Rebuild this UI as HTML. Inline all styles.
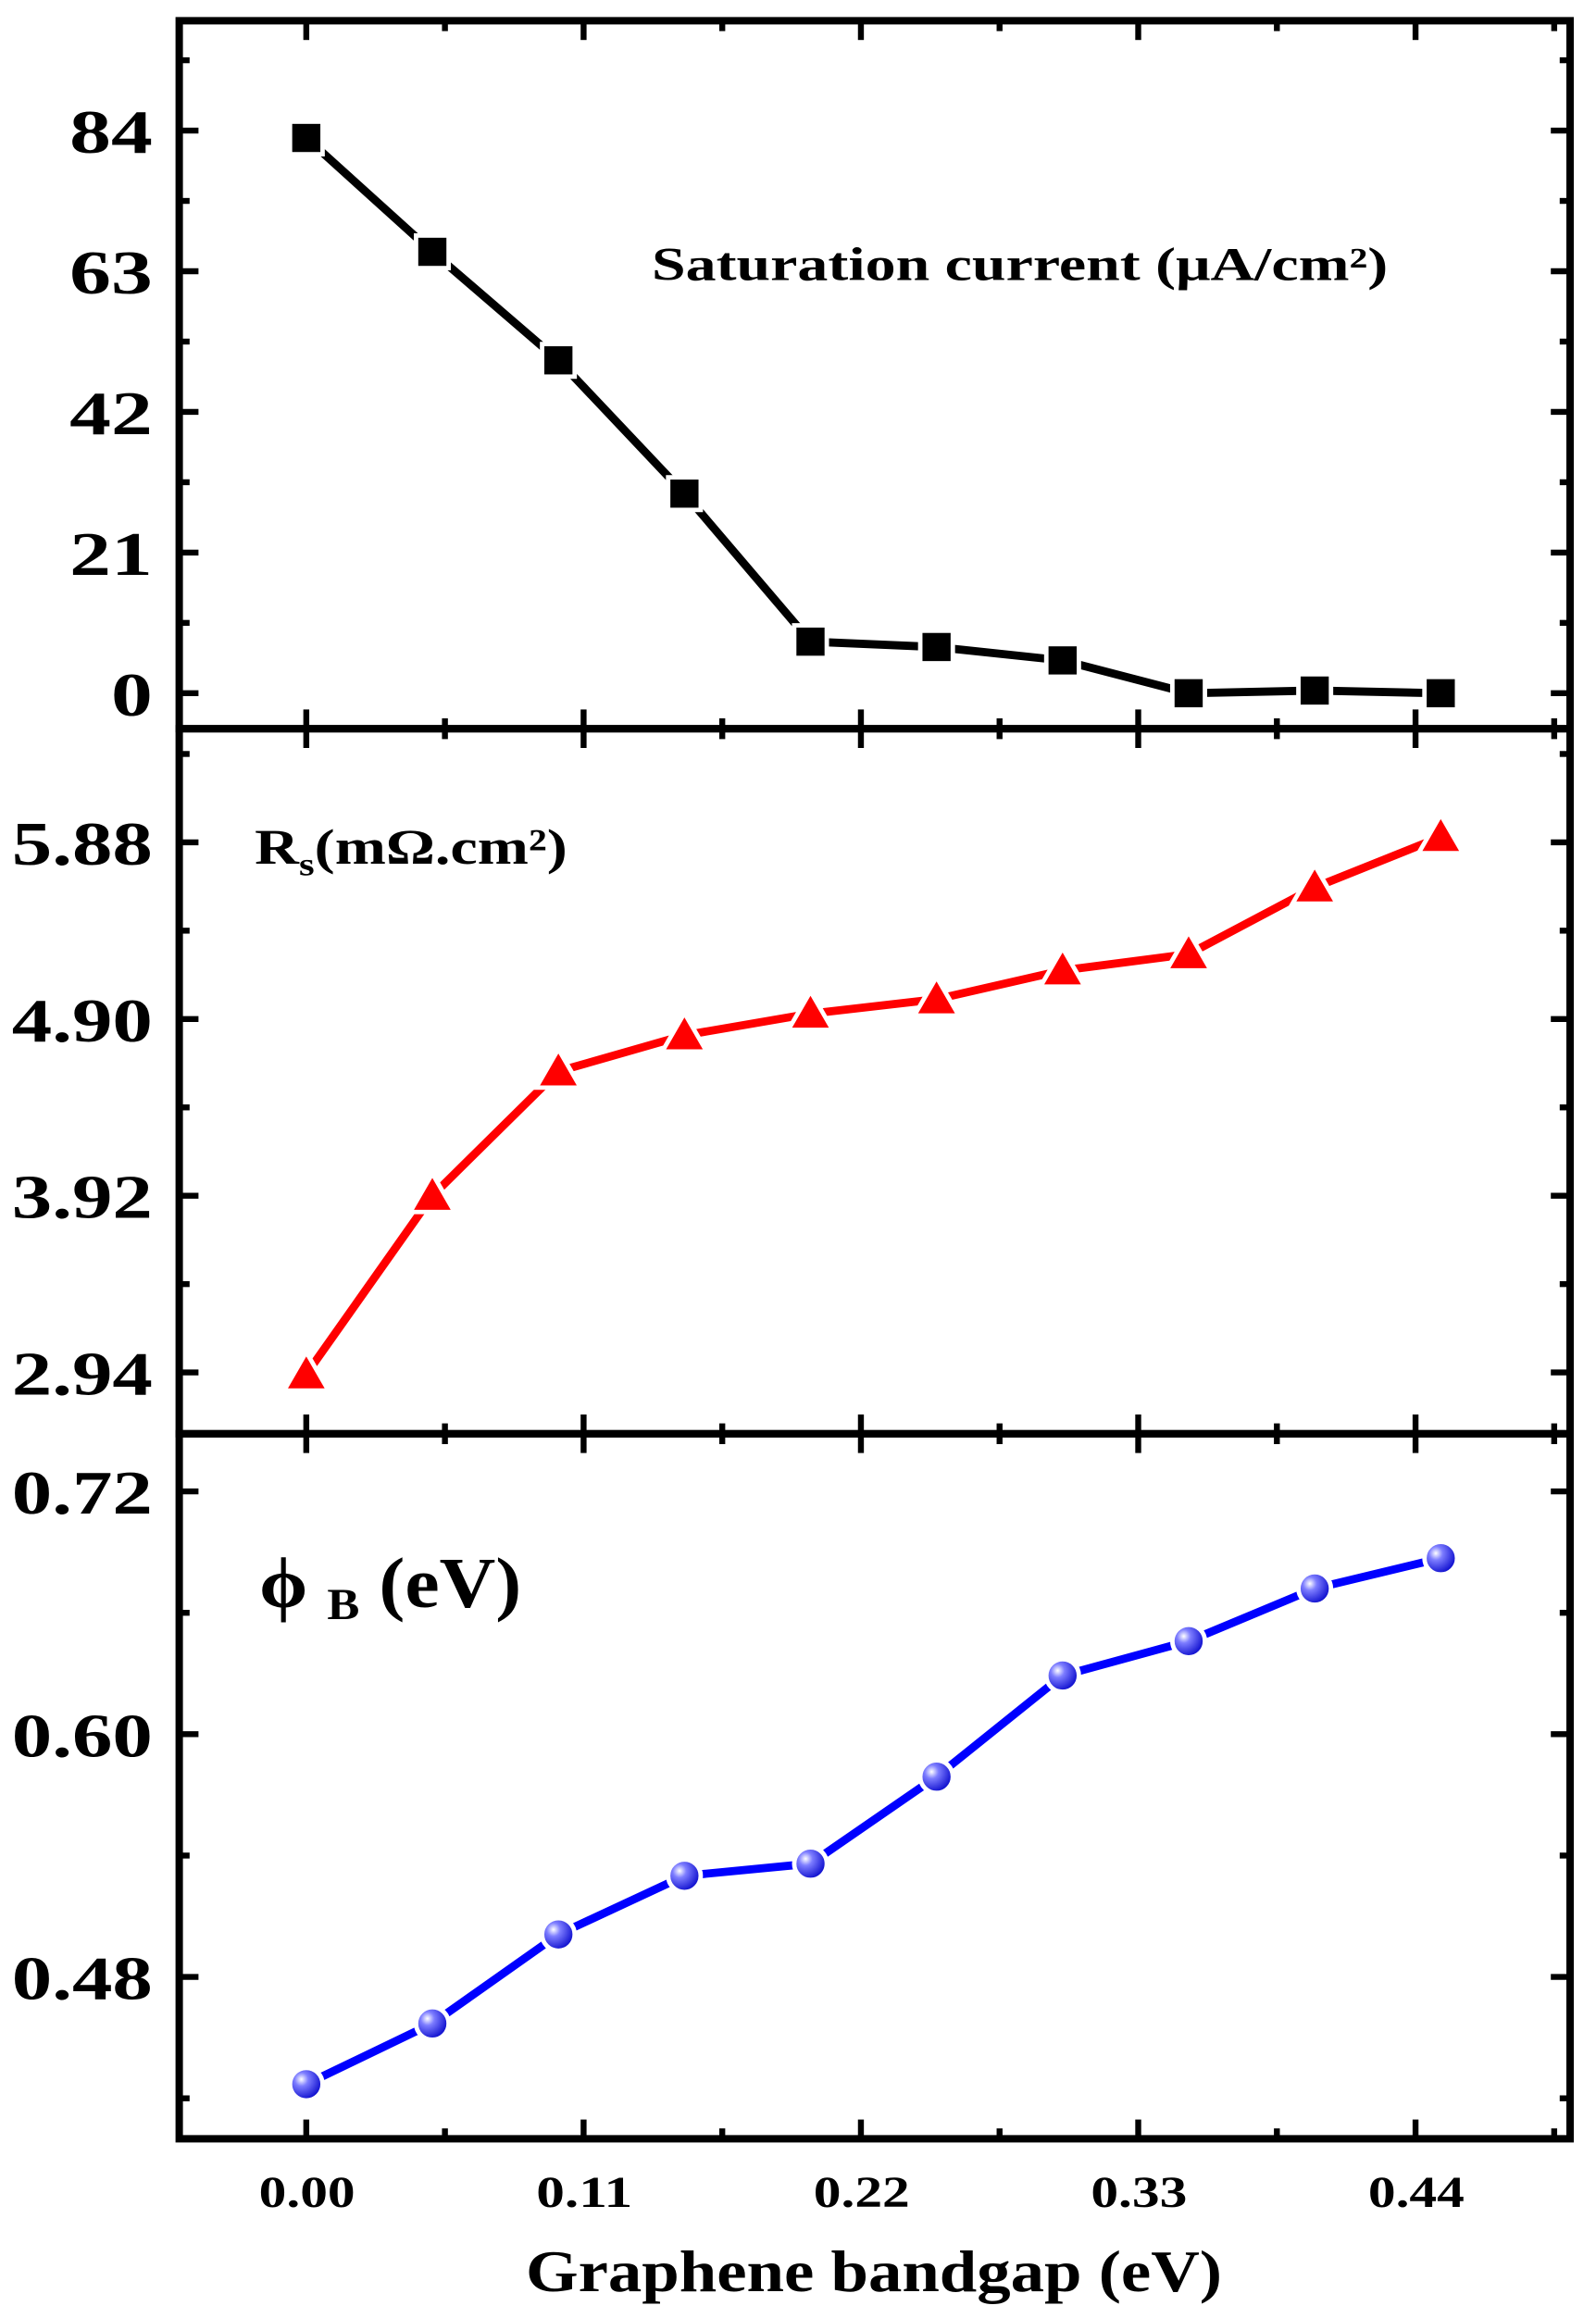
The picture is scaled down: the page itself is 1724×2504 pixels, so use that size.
<!DOCTYPE html>
<html><head><meta charset="utf-8"><style>
html,body{margin:0;padding:0;background:#fff;}
svg{display:block;}
text{font-family:"Liberation Serif",serif;font-weight:bold;fill:#000;}
</style></head><body>
<svg id="chart" width="1724" height="2504" viewBox="0 0 1077.5 1565" preserveAspectRatio="none" xmlns="http://www.w3.org/2000/svg">
<defs>
<radialGradient id="ball" cx="0.35" cy="0.35" r="0.7">
<stop offset="0" stop-color="#ffffff"/><stop offset="0.3" stop-color="#7d7dff"/><stop offset="1" stop-color="#0000c8"/>
</radialGradient>
</defs>
<g id="plots"></g>
<text x="355" y="1547" font-size="40" textLength="470" lengthAdjust="spacingAndGlyphs">Graphene bandgap (eV)</text>
<text x="440" y="189" font-size="32" textLength="497" lengthAdjust="spacingAndGlyphs">Saturation current (μA/cm²)</text>
<text x="172" y="583" font-size="34" textLength="211" lengthAdjust="spacingAndGlyphs">R<tspan font-size="22" dy="8">s</tspan><tspan dy="-8">(mΩ.cm²)</tspan></text>
<text x="175" y="1085" font-size="48" textLength="177" lengthAdjust="spacingAndGlyphs">ϕ <tspan font-size="30" dy="8">B</tspan><tspan dy="-8"> (eV)</tspan></text>
</svg>
<script>
const xValues = [0, 0.05, 0.10, 0.15, 0.20, 0.25, 0.30, 0.35, 0.40, 0.45];
const xTicks = [0, 0.11, 0.22, 0.33, 0.44];
const xTickLabels = ["0.00", "0.11", "0.22", "0.33", "0.44"];
const satCurrent = [82.9, 65.9, 49.7, 29.8, 7.7, 6.9, 4.9, 0, 0.4, 0];
const satTicks = [0, 21, 42, 63, 84];
const satTickLabels = ["0", "21", "42", "63", "84"];
const rsValues = [2.93, 3.92, 4.61, 4.81, 4.93, 5.01, 5.17, 5.26, 5.63, 5.91];
const rsTicks = [2.94, 3.92, 4.90, 5.88];
const rsTickLabels = ["2.94", "3.92", "4.90", "5.88"];
const phiValues = [0.427, 0.457, 0.501, 0.530, 0.536, 0.579, 0.629, 0.646, 0.672, 0.687];
const phiTicks = [0.48, 0.60, 0.72];
const phiTickLabels = ["0.48", "0.60", "0.72"];

const NS = "http://www.w3.org/2000/svg";
const g = document.getElementById("plots");
const L = 121, R = 1060;
const xMin = -0.0504, xMax = 0.5013;
function xs(v){ return L + (v - xMin) / (xMax - xMin) * (R - L); }
function mk(tag, attrs, parent){ const e = document.createElementNS(NS, tag); for (const k in attrs) e.setAttribute(k, attrs[k]); (parent || g).appendChild(e); return e; }

const panels = [
 {name:"saturation", top:14, bot:492, min:-5.3, max:100.4, vals:satCurrent, ticks:satTicks, labels:satTickLabels, step:21, color:"#000", marker:"square"},
 {name:"rs", top:492, bot:968, min:2.60, max:6.51, vals:rsValues, ticks:rsTicks, labels:rsTickLabels, step:0.98, color:"#ff0000", marker:"triangle"},
 {name:"phi", top:968, bot:1444, min:0.400, max:0.7485, vals:phiValues, ticks:phiTicks, labels:phiTickLabels, step:0.12, color:"#0000ff", marker:"circle"}
];

panels.forEach(p => {
  const ys = v => p.bot - (v - p.min) / (p.max - p.min) * (p.bot - p.top);
  for (let i = -1; i < p.ticks.length + 1; i++) {
    const base = p.ticks[0] + i * p.step;
    [[base, 13], [base + p.step / 2, 7]].forEach(([v, len]) => {
      if (v <= p.min || v >= p.max) return;
      const y = ys(v);
      const t1 = mk("line", {x1:L, x2:L+len, y1:y, y2:y, stroke:"#000", "stroke-width":4});
      
      
      const t2 = mk("line", {x1:R-len, x2:R, y1:y, y2:y, stroke:"#000", "stroke-width":4});
      
      
    });
  }
  p.ticks.forEach((v, i) => {
    const lab = p.labels[i];
    const w = lab.length <= 1 ? 28 : (lab.length === 2 ? 56 : 95);
    const t = mk("text", {x:103 - w, y:ys(v) + 15, "font-size":42, textLength:w, lengthAdjust:"spacingAndGlyphs"});
    t.textContent = lab;
    
    
  });
  for (let i = 0; i < xTicks.length * 2 + 1; i++) {
    const v = i * 0.055;
    const x = xs(v);
    if (x >= R) continue;
    const len = i % 2 === 0 ? 13 : 7;
    const a = mk("line", {x1:x, x2:x, y1:p.bot, y2:p.bot-len, stroke:"#000", "stroke-width":4});
    
    
    const b = mk("line", {x1:x, x2:x, y1:p.top, y2:p.top+len, stroke:"#000", "stroke-width":4});
    
    
  }
  const pts = p.vals.map((v, i) => xs(xValues[i]) + "," + ys(v)).join(" ");
  const pl = mk("polyline", {points:pts, fill:"none", stroke:p.color, "stroke-width":5.5, "stroke-linejoin":"round"});
  
  
  p.vals.forEach((v, i) => {
    const x = xs(xValues[i]), y = ys(v);
    let m;
    if (p.marker === "square") m = mk("rect", {x:x-11, y:y-11, width:22, height:22, fill:"#000", stroke:"#fff", "stroke-width":3});
    else if (p.marker === "triangle") m = mk("polygon", {points:`${x},${y-15} ${x-15},${y+11} ${x+15},${y+11}`, fill:"#ff0000", stroke:"#fff", "stroke-width":3});
    else m = mk("circle", {cx:x, cy:y, r:11, fill:"url(#ball)", stroke:"#fff", "stroke-width":3});
    
    
  });
});
panels.forEach(p => {
  const f = mk("rect", {x:L, y:p.top, width:R-L, height:p.bot-p.top, fill:"none", stroke:"#000", "stroke-width":5});
  
  
});
xTicks.forEach((v, i) => {
  const t = mk("text", {x:xs(v) - 32, y:1490, "font-size":30, textLength:65, lengthAdjust:"spacingAndGlyphs"});
  t.textContent = xTickLabels[i];
  
  
});
</script>
</body></html>
